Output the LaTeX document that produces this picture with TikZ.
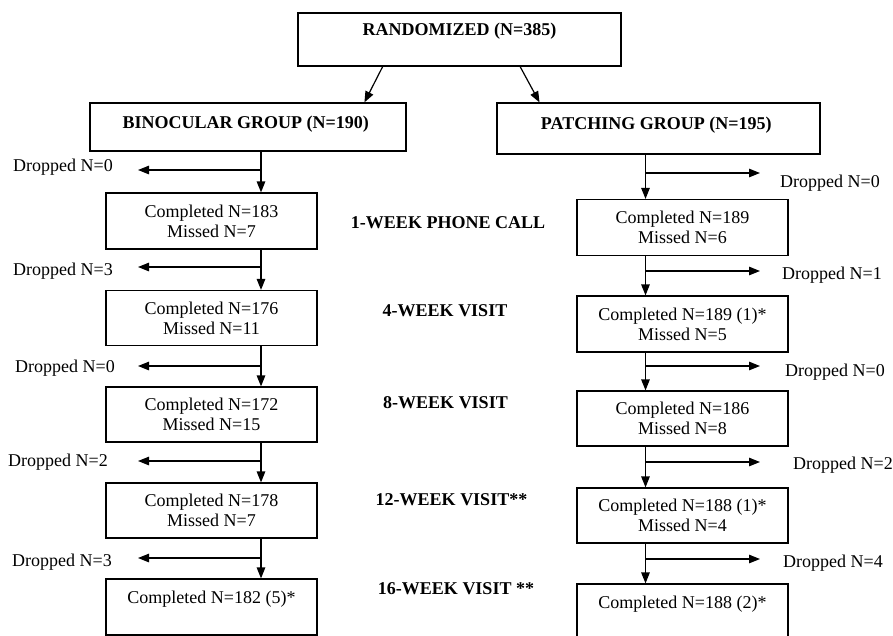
\documentclass[tikz,border=0pt]{standalone}
\usepackage{fontspec}
\setmainfont{Liberation Serif}
\usetikzlibrary{arrows.meta,calc}

\begin{document}
\begin{tikzpicture}[x=1pt,y=-1pt,
    box/.style={draw,line width=1.2pt,minimum width=211pt,minimum height=55pt,inner sep=0pt,align=center,font=\fontsize{18}{20}\selectfont},
    groupbox/.style={box,font=\fontsize{18}{20}\selectfont\bfseries},
    visit/.style={inner sep=0pt,font=\fontsize{18}{20}\selectfont\bfseries},
    drop/.style={inner sep=0pt,font=\fontsize{18}{20}\selectfont},
    flow/.style={line width=1.2pt,-{Triangle[length=11pt,width=8.5pt]}}]
            \useasboundingbox (0,0) rectangle (893,635);

            \node[groupbox,minimum width=323pt,minimum height=53pt] (rand) at (459.5, 39.5) { RANDOMIZED (N=385)\\~ };
            \node[groupbox,minimum width=316pt,minimum height=48pt,text height=12.5pt,text depth=10pt] (bin) at (248, 127) { BINOCULAR GROUP (N=190) };
            \node[groupbox,minimum width=323pt,minimum height=51pt,text height=12.5pt,text depth=10pt] (pat) at (658.5, 128.5) { PATCHING GROUP (N=195) };

            \node[box,minimum height=56pt] (L1) at (211.5, 221) { Completed N=183\\Missed N=7 };
            \node[box] (L2) at (211.5, 318) { Completed N=176\\Missed N=11 };
            \node[box] (L3) at (211.5, 414.5) { Completed N=172\\Missed N=15 };
            \node[box] (L4) at (211.5, 510.5) { Completed N=178\\Missed N=7 };
            \node[box,minimum height=56pt] (L5) at (211.5, 607) { Completed N=182 (5)*\\~ };

            \node[box,minimum height=56pt] (R1) at (682.5, 227.5) { Completed N=189\\Missed N=6 };
            \node[box,minimum height=56pt] (R2) at (682.5, 324) { Completed N=189 (1)*\\Missed N=5 };
            \node[box] (R3) at (682.5, 418.5) { Completed N=186\\Missed N=8 };
            \node[box] (R4) at (682.5, 515.5) { Completed N=188 (1)*\\Missed N=4 };
            \node[box,minimum height=56pt] (R5) at (682.5, 612) { Completed N=188 (2)*\\~ };

            \node[visit] (wk1) at (448, 223) { 1-WEEK PHONE CALL };
            \node[visit] (wk4) at (445, 311) { 4-WEEK VISIT };
            \node[visit] (wk8) at (445.5, 403) { 8-WEEK VISIT };
            \node[visit] (wk12) at (451.5, 500) { 12-WEEK VISIT** };
            \node[visit] (wk16) at (456, 589) { 16-WEEK VISIT ** };

            % dropped out, binocular side
            \node[drop,anchor=east] (dL1) at (113, 167) { Dropped N=0 };
            \node[drop,anchor=east] (dL2) at (113, 271) { Dropped N=3 };
            \node[drop,anchor=east] (dL3) at (115, 368) { Dropped N=0 };
            \node[drop,anchor=east] (dL4) at (108, 462) { Dropped N=2 };
            \node[drop,anchor=east] (dL5) at (112, 562) { Dropped N=3 };

            % dropped out, patching side
            \node[drop,anchor=west] (dR1) at (780, 183) { Dropped N=0 };
            \node[drop,anchor=west] (dR2) at (782, 275) { Dropped N=1 };
            \node[drop,anchor=west] (dR3) at (785, 372) { Dropped N=0 };
            \node[drop,anchor=west] (dR4) at (793, 465) { Dropped N=2 };
            \node[drop,anchor=west] (dR5) at (783, 563) { Dropped N=4 };

            \coordinate (jL1) at (261, 170);  \coordinate (tL1) at (138, 170);
            \coordinate (jL2) at (261, 267);  \coordinate (tL2) at (138, 267);
            \coordinate (jL3) at (261, 366);  \coordinate (tL3) at (138, 366);
            \coordinate (jL4) at (261, 461);  \coordinate (tL4) at (138, 461);
            \coordinate (jL5) at (261, 558);  \coordinate (tL5) at (138, 558);
            \coordinate (jR1) at (645.5, 173);  \coordinate (tR1) at (760, 173);
            \coordinate (jR2) at (645.5, 271);  \coordinate (tR2) at (760, 271);
            \coordinate (jR3) at (645.5, 366);  \coordinate (tR3) at (760, 366);
            \coordinate (jR4) at (645.5, 462);  \coordinate (tR4) at (760, 462);
            \coordinate (jR5) at (645.5, 559);  \coordinate (tR5) at (760, 559);

            \draw[flow] ($(rand.south west)!0.263!(rand.south east)$) -- ($(bin.north west)!0.867!(bin.north east)$);
            \draw[flow] ($(rand.south west)!0.687!(rand.south east)$) -- ($(pat.north west)!0.133!(pat.north east)$);

            \draw[flow] (bin.south -| jL1) -- (L1.north -| jL1);
            \draw[flow] (L1.south -| jL2) -- (L2.north -| jL2);
            \draw[flow] (L2.south -| jL3) -- (L3.north -| jL3);
            \draw[flow] (L3.south -| jL4) -- (L4.north -| jL4);
            \draw[flow] (L4.south -| jL5) -- (L5.north -| jL5);
            \draw[flow] (pat.south -| jR1) -- (R1.north -| jR1);
            \draw[flow] (R1.south -| jR2) -- (R2.north -| jR2);
            \draw[flow] (R2.south -| jR3) -- (R3.north -| jR3);
            \draw[flow] (R3.south -| jR4) -- (R4.north -| jR4);
            \draw[flow] (R4.south -| jR5) -- (R5.north -| jR5);

            \draw[flow] (jL1) -- (tL1);
            \draw[flow] (jL2) -- (tL2);
            \draw[flow] (jL3) -- (tL3);
            \draw[flow] (jL4) -- (tL4);
            \draw[flow] (jL5) -- (tL5);
            \draw[flow] (jR1) -- (tR1);
            \draw[flow] (jR2) -- (tR2);
            \draw[flow] (jR3) -- (tR3);
            \draw[flow] (jR4) -- (tR4);
            \draw[flow] (jR5) -- (tR5);

        \end{tikzpicture}
\end{document}
